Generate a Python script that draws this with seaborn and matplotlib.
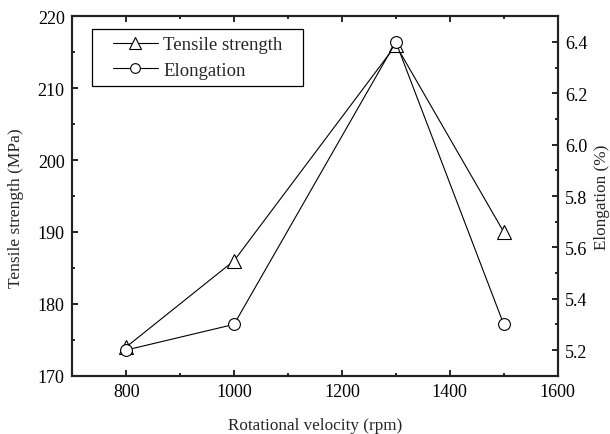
import matplotlib
matplotlib.use("Agg")
import matplotlib.pyplot as plt
import seaborn as sns
import pandas as pd
from matplotlib.ticker import MultipleLocator, FixedLocator
from matplotlib.lines import Line2D
from matplotlib.patches import Rectangle

velocity = [800, 1000, 1300, 1500]
tensile = [174, 186, 216, 190]
elongation = [5.2, 5.3, 6.4, 5.3]
right_ticks = [5.2, 5.4, 5.6, 5.8, 6.0, 6.2, 6.4]
right_labels = ["5.2", "5.4", "5.6", "5.8", "6.0", "6.2", "6.4"]

sns.set_style("ticks")
plt.rcParams['font.family'] = ['Liberation Serif', 'DejaVu Serif']
plt.rcParams['font.size'] = 12

df = pd.DataFrame({"v": velocity, "t": tensile, "e": elongation})

fig = plt.figure(figsize=(6.1, 4.35), dpi=100)
ax = fig.add_axes([0.1185, 0.134, 0.7957, 0.8262])
ax2 = ax.twinx()

sns.lineplot(data=df, x="v", y="t", ax=ax, color="black", lw=0.8, marker="^",
             markersize=10, markerfacecolor="white", markeredgecolor="black", markeredgewidth=0.8)
sns.lineplot(data=df, x="v", y="e", ax=ax2, color="black", lw=0.8, marker="o",
             markersize=8.5, markerfacecolor="white", markeredgecolor="black", markeredgewidth=0.8)

ax.set_xlim(700, 1600)
ax.set_ylim(170, 220)
ax2.set_ylim(5.1, 6.5)
ax.xaxis.set_major_locator(MultipleLocator(200))
ax.xaxis.set_minor_locator(MultipleLocator(100))
ax.yaxis.set_major_locator(MultipleLocator(10))
ax.yaxis.set_minor_locator(MultipleLocator(5))
ax2.yaxis.set_major_locator(FixedLocator(right_ticks))
ax2.set_yticklabels(right_labels)
ax2.yaxis.set_minor_locator(MultipleLocator(0.1))

ax.tick_params(which="both", direction="in", top=True, right=False, labelsize=13,
               colors="black", pad=5.5)
ax.tick_params(which="major", length=4.5, width=1.2)
ax.tick_params(which="minor", length=2.5, width=1.2)
ax2.tick_params(which="both", direction="in", labelsize=13, colors="black", pad=5.5)
ax2.tick_params(which="major", length=4.5, width=1.2)
ax2.tick_params(which="minor", length=2.5, width=1.2)

for a in (ax, ax2):
    for s in a.spines.values():
        s.set_visible(True)
        s.set_linewidth(1.5)
        s.set_color("#222222")

ax.set_xlabel("Rotational velocity (rpm)", fontsize=12.3)
ax.set_ylabel("Tensile strength (MPa)", fontsize=12.5)
ax2.set_ylabel("Elongation (%)", fontsize=12.3)
ax.xaxis.set_label_coords(0.5, -0.115)
ax.yaxis.set_label_coords(-0.10, 0.47)
ax2.yaxis.set_label_coords(1.075, 0.5)

# legend frame
ax.add_patch(Rectangle((0.0406, 0.806), 0.435, 0.159, transform=ax.transAxes,
                       facecolor="white", edgecolor="black", lw=0.9, zorder=5))
handles = [
    Line2D([], [], color="black", lw=0.8, marker="^", markersize=8, markerfacecolor="white",
           markeredgecolor="black", markeredgewidth=0.8),
    Line2D([], [], color="black", lw=0.8, marker="o", markersize=7, markerfacecolor="white",
           markeredgecolor="black", markeredgewidth=0.8),
]
leg = ax.legend(handles, ["Tensile strength", "Elongation"], loc="center",
                bbox_to_anchor=(0.258, 0.8855), fontsize=13.5, frameon=False,
                handlelength=2.4, handletextpad=0.3, borderpad=0.0, labelspacing=0.45)
leg.set_zorder(6)
if ax2.get_legend():
    ax2.get_legend().remove()

fig.savefig("out.png", dpi=100)
